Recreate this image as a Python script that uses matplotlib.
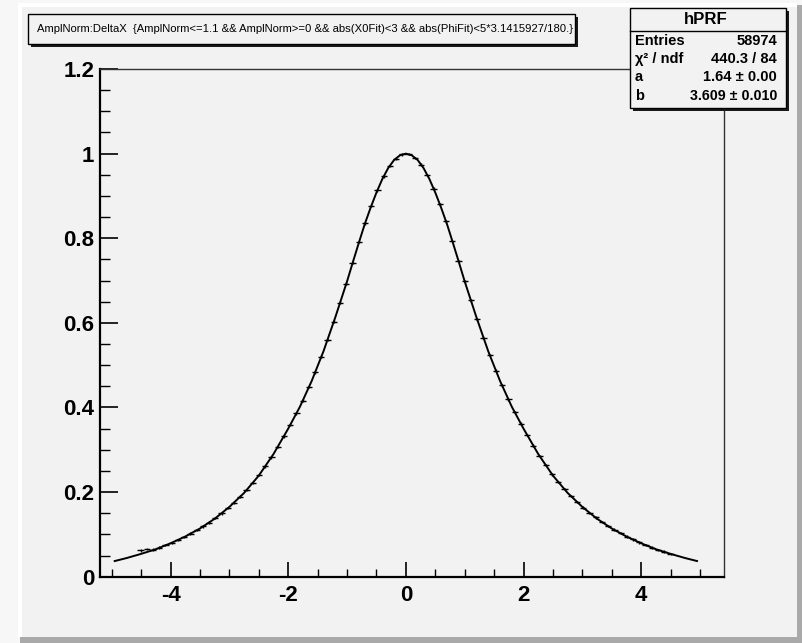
import numpy as np
import matplotlib
matplotlib.use("Agg")
import matplotlib.pyplot as plt
from matplotlib.patches import Rectangle
from matplotlib.ticker import MultipleLocator, FormatStrFormatter

plt.rcParams['font.family'] = ['DejaVu Sans Condensed', 'Liberation Sans Narrow',
                               'Liberation Sans', 'DejaVu Sans']
plt.rcParams['axes.unicode_minus'] = False

# profile histogram hPRF: 100 bins on [-5.2, 5.4], filled bins 6..91
hist_lo, hist_hi, hist_nbins = -5.2, 5.4, 100
first_bin = 6
prf_mean = [
    0.062, 0.065, 0.064, 0.069, 0.075, 0.080, 0.087, 0.094, 0.102, 0.110,
    0.119, 0.128, 0.139, 0.150, 0.162, 0.175, 0.189, 0.205, 0.222, 0.240,
    0.261, 0.282, 0.307, 0.332, 0.359, 0.386, 0.416, 0.448, 0.483, 0.520,
    0.560, 0.603, 0.648, 0.693, 0.741, 0.791, 0.835, 0.876, 0.913, 0.946,
    0.971, 0.988, 0.998,
    0.999, 0.990, 0.974, 0.949, 0.917, 0.880, 0.840, 0.794, 0.746, 0.698,
    0.653, 0.608, 0.565, 0.524, 0.487, 0.452, 0.419, 0.389, 0.362, 0.335,
    0.310, 0.285, 0.264, 0.242, 0.224, 0.207, 0.191, 0.177, 0.163, 0.151,
    0.140, 0.129, 0.120, 0.111, 0.103, 0.095, 0.088, 0.081, 0.075, 0.069,
    0.063, 0.059, 0.054,
]
prf_err = 0.003

# fitted PRF curve
fit_x = [-4.95, -4.75, -4.5, -4.25, -4.0, -3.75, -3.5, -3.25, -3.0, -2.75,
         -2.5, -2.25, -2.0, -1.8, -1.6, -1.4, -1.2, -1.0, -0.9, -0.8, -0.7,
         -0.6, -0.5, -0.4, -0.3, -0.2, -0.1, 0.0,
         0.1, 0.2, 0.3, 0.4, 0.5, 0.6, 0.7, 0.8, 0.9, 1.0, 1.2, 1.4, 1.6,
         1.8, 2.0, 2.25, 2.5, 2.75, 3.0, 3.25, 3.5, 3.75, 4.0, 4.25, 4.5,
         4.75, 4.95]
fit_y = [0.037, 0.044, 0.054, 0.065, 0.079, 0.095, 0.114, 0.137, 0.165, 0.198,
         0.239, 0.290, 0.350, 0.402, 0.463, 0.533, 0.613, 0.698, 0.744, 0.789,
         0.833, 0.872, 0.908, 0.940, 0.966, 0.985, 0.996, 1.000,
         0.996, 0.985, 0.966, 0.940, 0.908, 0.872, 0.833, 0.789, 0.744, 0.698,
         0.613, 0.533, 0.463, 0.402, 0.350, 0.290, 0.239, 0.198, 0.165, 0.137,
         0.114, 0.095, 0.079, 0.065, 0.054, 0.044, 0.037]

title_text = "AmplNorm:DeltaX  {AmplNorm<=1.1 && AmplNorm>=0 && abs(X0Fit)<3 && abs(PhiFit)<5*3.1415927/180.}"
stats_name = "hPRF"
stats_rows = [("Entries", "58974"),
              ("\u03c7\u00b2 / ndf", "440.3 / 84"),
              ("a", "1.64 \u00b1 0.00"),
              ("b", "3.609 \u00b1 0.010")]

W, H = 802, 643
fig = plt.figure(figsize=(W / 100, H / 100), dpi=100)
fig.patch.set_facecolor('#f7f7f7')
renderer = fig.canvas.get_renderer()


def box(x0, y0, x1, y1, **kw):
    # rectangle given in pixels from the top-left corner
    r = Rectangle((x0 / W, 1 - y1 / H), (x1 - x0) / W, (y1 - y0) / H,
                  transform=fig.transFigure, **kw)
    fig.add_artist(r)
    return r


def put(x, y, s, size, width=None, **kw):
    # text at pixel position; shrink the size until it is no wider than width
    t = fig.text(x / W, 1 - y / H, s, fontsize=size, va='center', zorder=7, **kw)
    if width is not None:
        w = t.get_window_extent(renderer).width
        if w > width:
            t.set_fontsize(size * width / w)
    return t


# canvas with bevelled border
box(20, 5, 802, 643, facecolor='#a9a9a9', edgecolor='none', zorder=-6)
box(18, 3, 797, 637, facecolor='white', edgecolor='none', zorder=-5)
box(22, 7, 797, 637, facecolor='#f2f2f2', edgecolor='none', zorder=-4)

ax = fig.add_axes([100 / W, 1 - 576.7 / H, 623.5 / W, 507.7 / H])
ax.set_facecolor('none')

bw = (hist_hi - hist_lo) / hist_nbins
idx = np.arange(first_bin, first_bin + len(prf_mean))
centers = hist_lo + (idx + 0.5) * bw
ax.errorbar(centers, prf_mean, xerr=bw / 2, yerr=prf_err, fmt='none',
            ecolor='black', elinewidth=1.0, capsize=0, zorder=3)
ax.plot(fit_x, fit_y, color='black', lw=1.4, zorder=4)

ax.set_xlim(hist_lo, hist_hi)
ax.set_ylim(0, 1.2)
ax.xaxis.set_major_locator(MultipleLocator(2))
ax.xaxis.set_minor_locator(MultipleLocator(0.5))
ax.yaxis.set_major_locator(MultipleLocator(0.2))
ax.yaxis.set_minor_locator(MultipleLocator(0.05))
ax.xaxis.set_major_formatter(FormatStrFormatter('%g'))
ax.yaxis.set_major_formatter(FormatStrFormatter('%g'))
ax.tick_params(axis='x', which='major', direction='in', length=11, width=1.2,
               pad=6, labelsize=16)
ax.tick_params(axis='x', which='minor', direction='in', length=5.5, width=1.0)
ax.tick_params(axis='y', which='major', direction='in', length=13, width=1.2,
               pad=4, labelsize=16)
ax.tick_params(axis='y', which='minor', direction='in', length=7, width=1.0)
for lab in ax.get_xticklabels() + ax.get_yticklabels():
    lab.set_fontweight('bold')
for side in ('left', 'bottom'):
    ax.spines[side].set_linewidth(1.6)
for side in ('top', 'right'):
    ax.spines[side].set_linewidth(1.0)
    ax.spines[side].set_color('#333333')

# title box with shadow
box(31, 17, 578, 47, facecolor='#1a1a1a', edgecolor='none', zorder=5)
box(28, 14, 575, 44, facecolor='#f2f2f2', edgecolor='black', lw=1.0, zorder=6)
put(37, 29.5, title_text, 11, width=532, ha='left')

# statistics box
box(633, 11, 789, 111, facecolor='#1a1a1a', edgecolor='none', zorder=5)
box(630, 8, 786, 108, facecolor='#f2f2f2', edgecolor='black', lw=1.0, zorder=6)
fig.add_artist(plt.Line2D([630 / W, 786 / W], [1 - 30.7 / H, 1 - 30.7 / H],
                          transform=fig.transFigure, color='black', lw=1.0,
                          zorder=7))
put(706, 19.5, stats_name, 12.5, width=44, fontweight='bold', ha='center')
row_y = [40.7, 59.3, 77.3, 96.0]
for (lab, val), ry in zip(stats_rows, row_y):
    put(635, ry, lab, 10.5, fontweight='bold', ha='left')
    put(777, ry, val, 10.5, width=88, fontweight='bold', ha='right')

fig.savefig('out.png', dpi=100, facecolor=fig.get_facecolor())
